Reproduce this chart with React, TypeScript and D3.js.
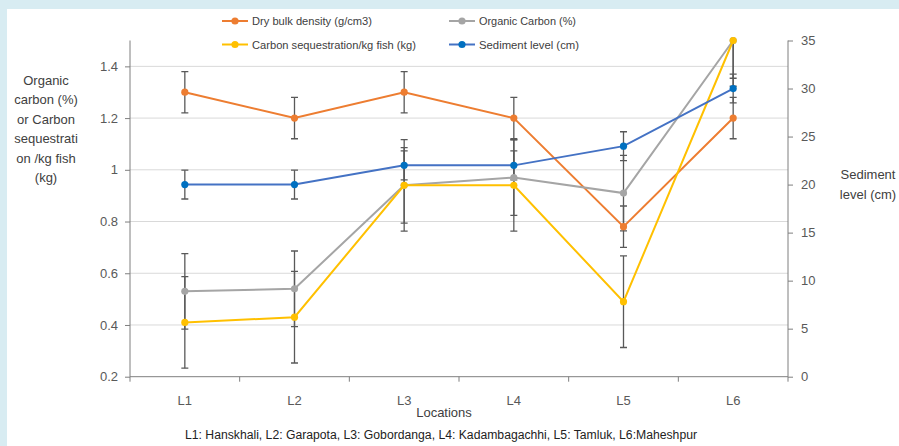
import * as d3 from "d3";
import { useEffect, useRef } from "react";

// data
const locations = ["L1", "L2", "L3", "L4", "L5", "L6"];
const dryBulk = [1.3, 1.2, 1.3, 1.2, 0.78, 1.2];
const organicCarbon = [0.53, 0.54, 0.94, 0.97, 0.91, 1.5];
const carbonSeq = [0.41, 0.43, 0.94, 0.94, 0.49, 1.5];
const sediment = [20, 20, 22, 22, 24, 30];
// excel style standard error bars (same value for every point)
const dryBulkErr = 0.08;
const organicCarbonErr = 0.146;
const carbonSeqErr = 0.177;
const sedimentErr = 1.5;
const leftTicks = [0.2, 0.4, 0.6, 0.8, 1, 1.2, 1.4];
const rightTicks = [0, 5, 10, 15, 20, 25, 30, 35];

const W = 899, H = 446;
const tickFont = "'Liberation Sans', Arial, sans-serif";

const App = () => {
  const ref = useRef<SVGSVGElement>(null);

  useEffect(() => {
    const svg = d3.select(ref.current);
    svg.selectAll("*").remove();

    const margin = { top: 40.5, right: 111, bottom: 69.3, left: 130 };
    const x0 = margin.left, x1 = W - margin.right;
    const y0 = H - margin.bottom, y1 = margin.top;

    // background panel
    svg.append("rect").attr("width", W).attr("height", H).attr("fill", "#d8ecf2");
    svg.append("rect").attr("x", 7).attr("y", 9).attr("width", W - 7).attr("height", H - 9).attr("fill", "#fff");

    const x = d3.scaleBand().domain(locations).range([x0, x1]);
    const yL = d3.scaleLinear().domain([0.2, 1.5]).range([y0, y1]);
    const yR = d3.scaleLinear().domain([0, 35]).range([y0, y1]);
    const cx = (d: string) => (x(d) as number) + x.bandwidth() / 2;

    svg.append("defs").append("clipPath").attr("id", "plot")
      .append("rect").attr("x", x0 - 10).attr("y", y1).attr("width", x1 - x0 + 20).attr("height", y0 - y1);

    // gridlines
    svg.append("g").selectAll("line").data(leftTicks.filter((t) => t > 0.2)).join("line")
      .attr("x1", x0).attr("x2", x1)
      .attr("y1", (d) => yL(d)).attr("y2", (d) => yL(d))
      .attr("stroke", "#d9d9d9").attr("stroke-width", 1);

    // left axis
    const gl = svg.append("g").attr("transform", `translate(${x0},0)`)
      .call(d3.axisLeft(yL).tickValues(leftTicks).tickSize(5).tickPadding(7)
        .tickFormat((d) => String(+(+d).toFixed(1))));
    gl.select(".domain").attr("stroke", "#7f7f7f").attr("d", `M-0,${y0}V${y1}`);
    gl.selectAll(".tick line").attr("stroke", "#7f7f7f");
    gl.selectAll("text").attr("fill", "#595959").style("font", `13px ${tickFont}`);

    // right axis
    const gr = svg.append("g").attr("transform", `translate(${x1},0)`)
      .call(d3.axisRight(yR).tickValues(rightTicks).tickSize(5).tickPadding(8));
    gr.select(".domain").attr("stroke", "#7f7f7f").attr("d", `M0,${y0}V${y1}`);
    gr.selectAll(".tick line").attr("stroke", "#7f7f7f");
    gr.selectAll("text").attr("fill", "#595959").style("font", `13px ${tickFont}`);

    // bottom axis
    const gb = svg.append("g").attr("transform", `translate(0,${y0})`);
    gb.append("line").attr("x1", x0).attr("x2", x1).attr("stroke", "#7f7f7f");
    const bounds = locations.map((d) => x(d) as number).concat([x1]);
    gb.selectAll("line.tk").data(bounds).join("line").attr("class", "tk")
      .attr("x1", (d) => d).attr("x2", (d) => d).attr("y1", 0).attr("y2", 5)
      .attr("stroke", "#7f7f7f");
    gb.selectAll("text").data(locations).join("text")
      .attr("x", cx).attr("y", 28).attr("text-anchor", "middle")
      .attr("fill", "#595959").style("font", `13px ${tickFont}`).text((d) => d);

    const series = [
      { vals: dryBulk, err: dryBulkErr, y: yL, line: "#ed7d31", mark: "#ed7d31" },
      { vals: organicCarbon, err: organicCarbonErr, y: yL, line: "#a5a5a5", mark: "#a5a5a5" },
      { vals: carbonSeq, err: carbonSeqErr, y: yL, line: "#ffc000", mark: "#ffc000" },
      { vals: sediment, err: sedimentErr, y: yR, line: "#4472c4", mark: "#0070c0" },
    ];

    // error bars
    const eb = svg.append("g").attr("clip-path", "url(#plot)");
    series.forEach((s) => {
      s.vals.forEach((v, i) => {
        const px = cx(locations[i]);
        const top = s.y(v + s.err), bot = s.y(v - s.err);
        eb.append("line").attr("x1", px).attr("x2", px).attr("y1", top).attr("y2", bot)
          .attr("stroke", "#595959").attr("stroke-width", 1.3);
        [top, bot].forEach((yy) => {
          eb.append("line").attr("x1", px - 3.5).attr("x2", px + 3.5).attr("y1", yy).attr("y2", yy)
            .attr("stroke", "#595959").attr("stroke-width", 1.3);
        });
      });
    });

    // lines and markers
    series.forEach((s) => {
      const line = d3.line<number>().x((_, i) => cx(locations[i])).y((d) => s.y(d));
      svg.append("path").datum(s.vals).attr("fill", "none")
        .attr("stroke", s.line).attr("stroke-width", 2).attr("d", line);
      svg.append("g").selectAll("circle").data(s.vals).join("circle")
        .attr("cx", (_, i) => cx(locations[i])).attr("cy", (d) => s.y(d))
        .attr("r", 3.6).attr("fill", s.mark);
    });

    // legend
    const legend = [
      { label: "Dry bulk density (g/cm3)", c: series[0], lx: 222, ly: 21, w: 120 },
      { label: "Organic Carbon (%)", c: series[1], lx: 449, ly: 21, w: 97 },
      { label: "Carbon sequestration/kg fish (kg)", c: series[2], lx: 222, ly: 44.5, w: 164 },
      { label: "Sediment level (cm)", c: series[3], lx: 449, ly: 44.5, w: 100 },
    ];
    const lg = svg.append("g");
    legend.forEach((l) => {
      lg.append("line").attr("x1", l.lx).attr("x2", l.lx + 26).attr("y1", l.ly).attr("y2", l.ly)
        .attr("stroke", l.c.line).attr("stroke-width", 2);
      lg.append("circle").attr("cx", l.lx + 13).attr("cy", l.ly).attr("r", 3.6).attr("fill", l.c.mark);
      lg.append("text").attr("x", l.lx + 30).attr("y", l.ly + 4)
        .attr("textLength", l.w).attr("lengthAdjust", "spacingAndGlyphs")
        .attr("fill", "#404040").style("font", `11.5px ${tickFont}`).text(l.label);
    });

    // axis titles
    const leftTitle = ["Organic", "carbon (%)", "or Carbon", "sequestrati", "on /kg fish", "(kg)"];
    svg.append("g").selectAll("text").data(leftTitle).join("text")
      .attr("x", 46).attr("y", (_, i) => 85 + i * 19.4).attr("text-anchor", "middle")
      .attr("fill", "#404040").style("font", `13px ${tickFont}`).text((d) => d);

    svg.append("g").selectAll("text").data(["Sediment", "level (cm)"]).join("text")
      .attr("x", 868).attr("y", (_, i) => 179 + i * 20).attr("text-anchor", "middle")
      .attr("fill", "#404040").style("font", `13px ${tickFont}`).text((d) => d);

    svg.append("text").attr("x", 444).attr("y", 417).attr("text-anchor", "middle")
      .attr("fill", "#404040").style("font", `13px ${tickFont}`).text("Locations");

    svg.append("text").attr("x", 441).attr("y", 439).attr("text-anchor", "middle")
      .attr("textLength", 512).attr("lengthAdjust", "spacingAndGlyphs")
      .attr("fill", "#222").style("font", `12px ${tickFont}`)
      .text("L1: Hanskhali, L2: Garapota, L3: Gobordanga, L4: Kadambagachhi, L5: Tamluk, L6:Maheshpur");
  }, []);

  return (
    <svg ref={ref} width={W} height={H}
      style={{ position: "absolute", left: 0, top: 0, display: "block" }} />
  );
};

export default App;
